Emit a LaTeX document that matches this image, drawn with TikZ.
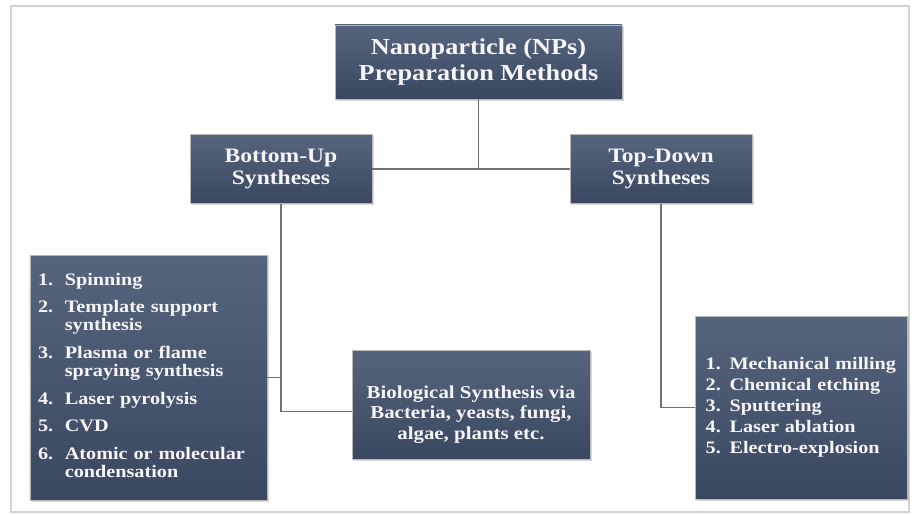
\documentclass[tikz,border=0pt]{standalone}
\usepackage{fontspec}
\usepackage{tikz}
\usetikzlibrary{positioning, shadows}
\newfontfamily\boxfont[FakeStretch=1.15]{Liberation Serif Bold}
\usepackage{xcolor}
\definecolor{boxtop}{RGB}{86,100,126}
\definecolor{boxbottom}{RGB}{57,71,97}
\definecolor{boxtext}{RGB}{246,246,248}
\definecolor{linkgray}{RGB}{112,112,118}
\tikzset{
  box/.style={rectangle, draw=gray!55, line width=0.6pt, top color=boxtop, bottom color=boxbottom, text=boxtext, drop shadow={opacity=0.3, shadow xshift=1.5pt, shadow yshift=-1.5pt}},
  head/.style={box, minimum width=8.61cm, minimum height=2.22cm, align=center, font=\boxfont\fontsize{19.5}{21.5}\selectfont},
  level/.style={box, minimum width=5.46cm, minimum height=2.06cm, align=center, font=\boxfont\fontsize{17.5}{18.5}\selectfont},
  bulist/.style={box, minimum height=7.35cm, text width=6.63cm, inner xsep=0.24cm, align=left, font=\boxfont\fontsize{15}{15.5}\selectfont},
  bio/.style={box, minimum width=7.14cm, minimum height=3.27cm, align=center, font=\boxfont\fontsize{15.5}{17.5}\selectfont},
  tdlist/.style={box, minimum height=5.49cm, text width=5.72cm, inner xsep=0.32cm, align=left, font=\boxfont\fontsize{15}{18}\selectfont},
  link/.style={line width=1.2pt, color=linkgray}
}

\begin{document}
\begin{tikzpicture}
    \useasboundingbox (0,0) rectangle (27.42,-15.45);
    \draw[gray!35, line width=1pt] (0.33,-0.18) rectangle (27.27,-15.36);

    % Defining nodes
    \node[head] (title) at (14.355,-1.86) {Nanoparticle (NPs)\\Preparation Methods};
    \node[level, below=1.05cm of title, xshift=-5.925cm] (bottomup) {Bottom-Up\\Syntheses};
    \node[level, below=1.05cm of title, xshift=5.475cm] (topdown) {Top-Down\\Syntheses};
    \node[bulist, below=1.53cm of bottomup, xshift=-3.975cm] (bulist) {%
      \begin{tabular}{@{}l@{\hspace{10pt}}l@{}}
        1. & Spinning\\[8pt]
        2. & Template support\\
           & synthesis\\[8pt]
        3. & Plasma or flame\\
           & spraying synthesis\\[8pt]
        4. & Laser pyrolysis\\[8pt]
        5. & CVD\\[8pt]
        6. & Atomic or molecular\\
           & condensation
      \end{tabular}};
    \node[bio, below=4.38cm of bottomup, xshift=5.7cm] (bio) {\rule{0pt}{28pt}Biological Synthesis via\\Bacteria, yeasts, fungi,\\algae, plants etc.};
    \node[tdlist, below=3.36cm of topdown, xshift=4.2cm] (tdlist) {1. Mechanical milling\\2. Chemical etching\\3. Sputtering\\4. Laser ablation\\5. Electro-explosion};

    % Drawing connectors
    \draw[link] (title) -- (title |- bottomup);
    \draw[link] (bottomup) -- (topdown);
    \draw[link] (bottomup) |- ([yshift=-0.2cm]bio.west);
    \draw[link] (bulist) -- (bulist -| bottomup);
    \draw[link] (topdown) |- (tdlist);
\end{tikzpicture}
\end{document}
